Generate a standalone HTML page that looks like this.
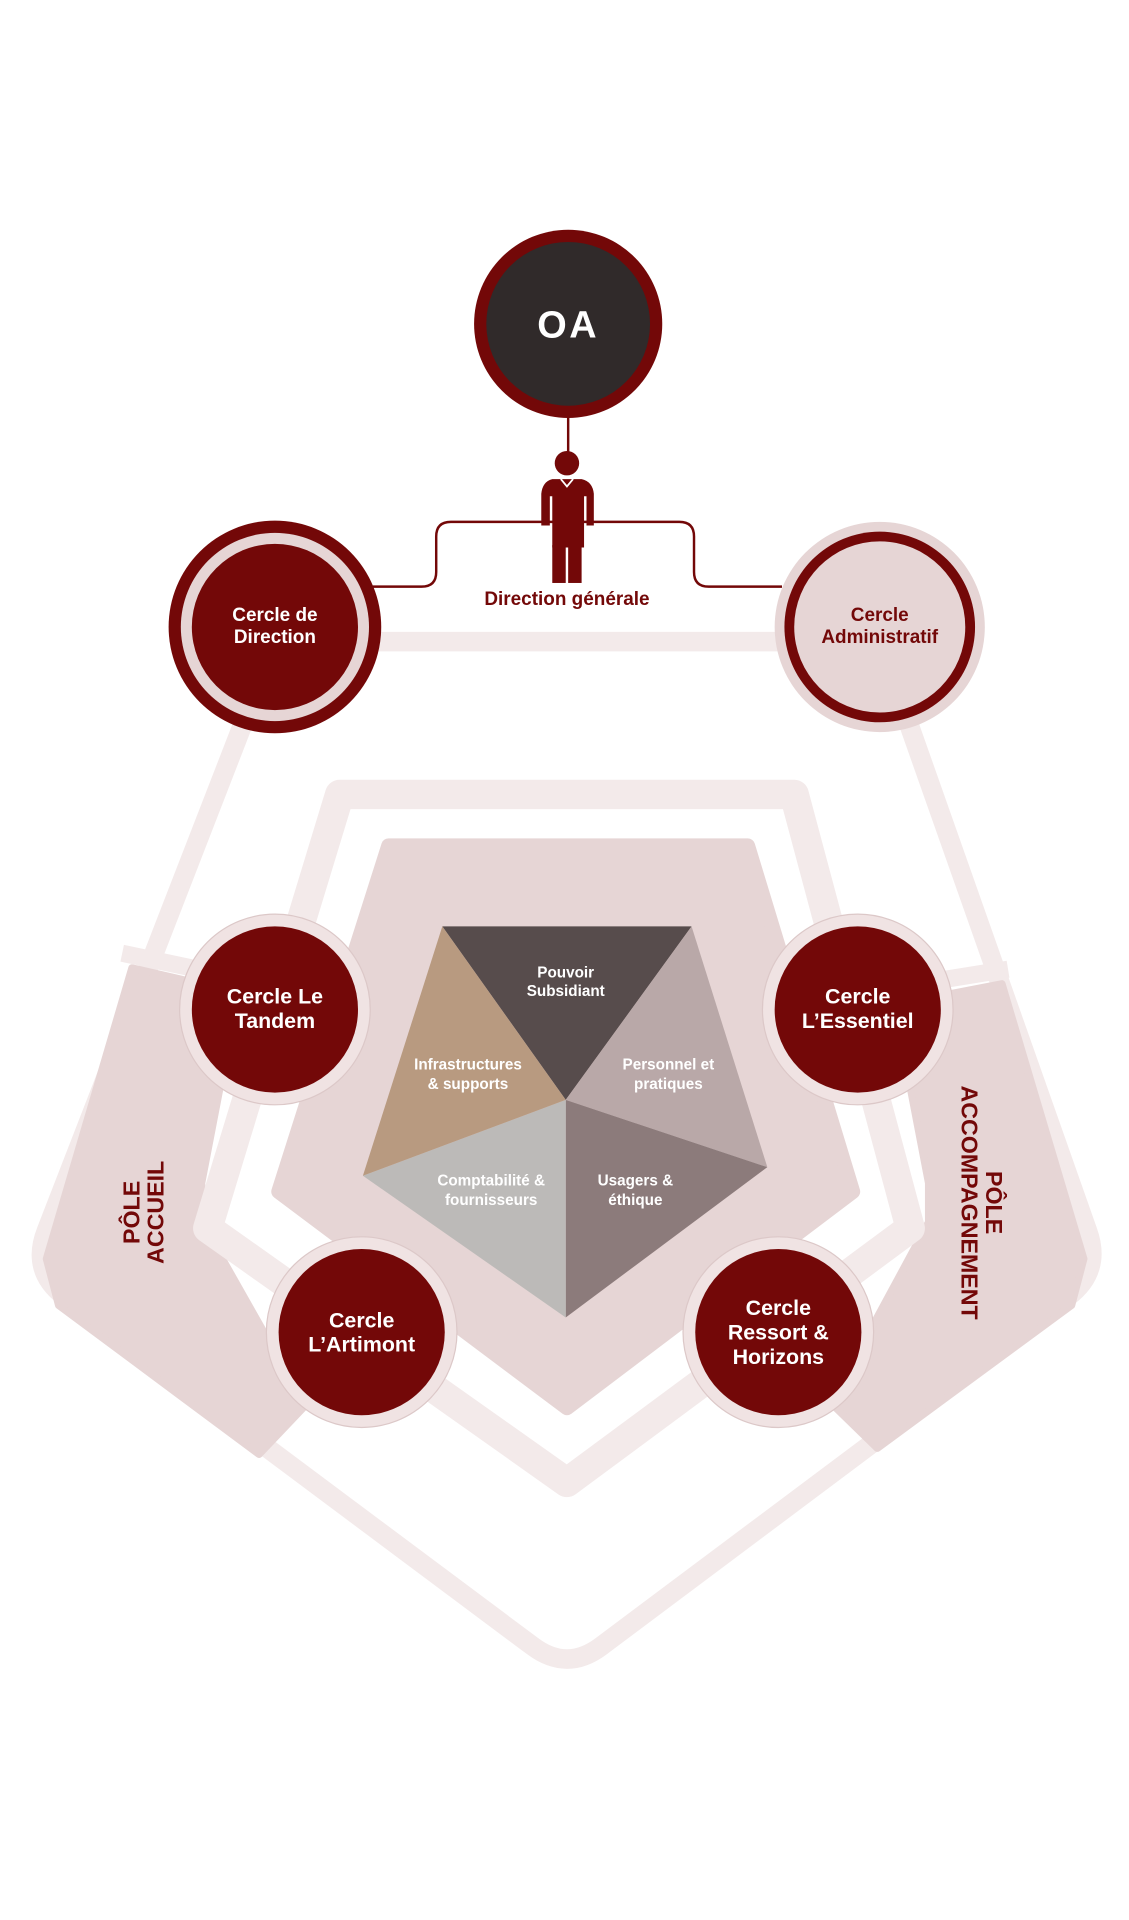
<!DOCTYPE html>
<html><head><meta charset="utf-8"><style>
html,body{margin:0;padding:0;background:#fff;}
svg{display:block;}
text{font-family:"Liberation Sans",sans-serif;font-weight:bold;}
</style></head><body>
<svg width="1129" height="1920" viewBox="0 0 924 1571" preserveAspectRatio="none" xmlns="http://www.w3.org/2000/svg">
<!-- outer pentagon ring -->
<path d="M225,525 H720 L890,1007 Q902,1040 874,1061 L492,1347 Q464,1368 436,1347 L53,1061 Q25,1040 38,1007 Z" fill="none" stroke="#f3eaea" stroke-width="16" stroke-linejoin="round"/>
<!-- pole bands -->
<polygon points="108,792 195,812 165,968 165,1000 250,1150 212,1190 48,1068 38,1030" fill="#e6d5d5" stroke="#e6d5d5" stroke-width="6" stroke-linejoin="round"/>
<polygon points="820,805 732,822 760,968 760,1000 680,1148 718,1185 877,1068 887,1030" fill="#e6d5d5" stroke="#e6d5d5" stroke-width="6" stroke-linejoin="round"/>
<line x1="100" y1="780" x2="195" y2="800" stroke="#f3eaea" stroke-width="14"/>
<line x1="825" y1="793" x2="732" y2="808" stroke="#f3eaea" stroke-width="14"/>
<!-- middle pentagon ring -->
<polygon points="278,650 650,650 745,1005 464,1213 170,1005" fill="none" stroke="#f3eaea" stroke-width="24" stroke-linejoin="round"/>
<!-- inner filled pentagon -->
<polygon points="318,692 612,692 698,975 464,1152 228,975" fill="#e6d5d5" stroke="#e6d5d5" stroke-width="12" stroke-linejoin="round"/>
<!-- pie -->
<polygon points="362,758 566,758 463,900" fill="#574c4c"/>
<polygon points="566,758 628,955 463,900" fill="#b9a8a8"/>
<polygon points="628,955 463,1078 463,900" fill="#8c7b7b"/>
<polygon points="463,1078 297,962 463,900" fill="#bcbab8"/>
<polygon points="297,962 362,758 463,900" fill="#b89a80"/>
<g fill="#fff" font-size="12.5" text-anchor="middle">
<text x="463" y="800">Pouvoir</text><text x="463" y="815">Subsidiant</text>
<text x="383" y="875">Infrastructures</text><text x="383" y="891">&amp; supports</text>
<text x="547" y="875">Personnel et</text><text x="547" y="891">pratiques</text>
<text x="402" y="970">Comptabilité &amp;</text><text x="402" y="986">fournisseurs</text>
<text x="520" y="970">Usagers &amp;</text><text x="520" y="986">éthique</text>
</g>
<!-- pole texts -->
<text transform="translate(118,992) rotate(-90)" text-anchor="middle" font-size="19" fill="#730808" font-family="Liberation Sans Narrow,Liberation Sans,sans-serif"><tspan x="0" y="-4">PÔLE</tspan><tspan x="0" y="16">ACCUEIL</tspan></text>
<text transform="translate(803,984) rotate(90)" text-anchor="middle" font-size="19" fill="#730808" font-family="Liberation Sans Narrow,Liberation Sans,sans-serif"><tspan x="0" y="-4">PÔLE</tspan><tspan x="0" y="16">ACCOMPAGNEMENT</tspan></text>
<!-- middle circles -->
<g>
<circle cx="225" cy="826" r="78" fill="#f0e3e3" stroke="#dcc8c8" stroke-width="1"/><circle cx="225" cy="826" r="68" fill="#730808"/>
<circle cx="702" cy="826" r="78" fill="#f0e3e3" stroke="#dcc8c8" stroke-width="1"/><circle cx="702" cy="826" r="68" fill="#730808"/>
<circle cx="296" cy="1090" r="78" fill="#f0e3e3" stroke="#dcc8c8" stroke-width="1"/><circle cx="296" cy="1090" r="68" fill="#730808"/>
<circle cx="637" cy="1090" r="78" fill="#f0e3e3" stroke="#dcc8c8" stroke-width="1"/><circle cx="637" cy="1090" r="68" fill="#730808"/>
</g>
<g fill="#fff" font-size="17.5" text-anchor="middle">
<text x="225" y="821">Cercle Le</text><text x="225" y="841">Tandem</text>
<text x="702" y="821">Cercle</text><text x="702" y="841">L’Essentiel</text>
<text x="296" y="1086">Cercle</text><text x="296" y="1106">L’Artimont</text>
<text x="637" y="1076">Cercle</text><text x="637" y="1096">Ressort &amp;</text><text x="637" y="1116">Horizons</text>
</g>
<!-- top band -->
<rect x="225" y="518" width="495" height="14" fill="#f3eaea"/>
<!-- connector -->
<path d="M305,480 H345 Q357,480 357,468 V439 Q357,427 369,427 H556 Q568,427 568,439 V468 Q568,480 580,480 H640" fill="none" stroke="#730808" stroke-width="2"/>
<line x1="465" y1="340" x2="465" y2="370" stroke="#730808" stroke-width="2"/>
<!-- OA -->
<circle cx="465" cy="265" r="77" fill="#730808"/>
<circle cx="465" cy="265" r="67" fill="#302a2a"/>
<text x="465" y="276" text-anchor="middle" font-size="31" fill="#fff" letter-spacing="2">OA</text>
<!-- person -->
<g fill="#730808">
<circle cx="464" cy="379" r="10"/>
<path d="M452,392 H476 Q485,394 486,404 V430 H480 V406 H478 V448 H452 V406 H450 V430 H443 V404 Q444,394 452,392 Z"/>
<rect x="452" y="446" width="11" height="31"/><rect x="465" y="446" width="11" height="31"/>
</g>
<path d="M459,392 L464,398 L469,392" fill="none" stroke="#fff" stroke-width="1.5"/>
<text x="464" y="495" text-anchor="middle" font-size="15.5" fill="#730808">Direction générale</text>
<!-- Cercle de Direction -->
<circle cx="225" cy="513" r="87" fill="#730808"/>
<circle cx="225" cy="513" r="77" fill="#e6d5d5"/>
<circle cx="225" cy="513" r="68" fill="#730808"/>
<text x="225" y="508" text-anchor="middle" font-size="15.5" fill="#fff">Cercle de</text>
<text x="225" y="526" text-anchor="middle" font-size="15.5" fill="#fff">Direction</text>
<!-- Cercle Administratif -->
<circle cx="720" cy="513" r="86" fill="#e6d5d5"/>
<circle cx="720" cy="513" r="78" fill="#730808"/>
<circle cx="720" cy="513" r="70" fill="#e6d5d5"/>
<text x="720" y="508" text-anchor="middle" font-size="15.5" fill="#730808">Cercle</text>
<text x="720" y="526" text-anchor="middle" font-size="15.5" fill="#730808">Administratif</text>
</svg>
</body></html>
